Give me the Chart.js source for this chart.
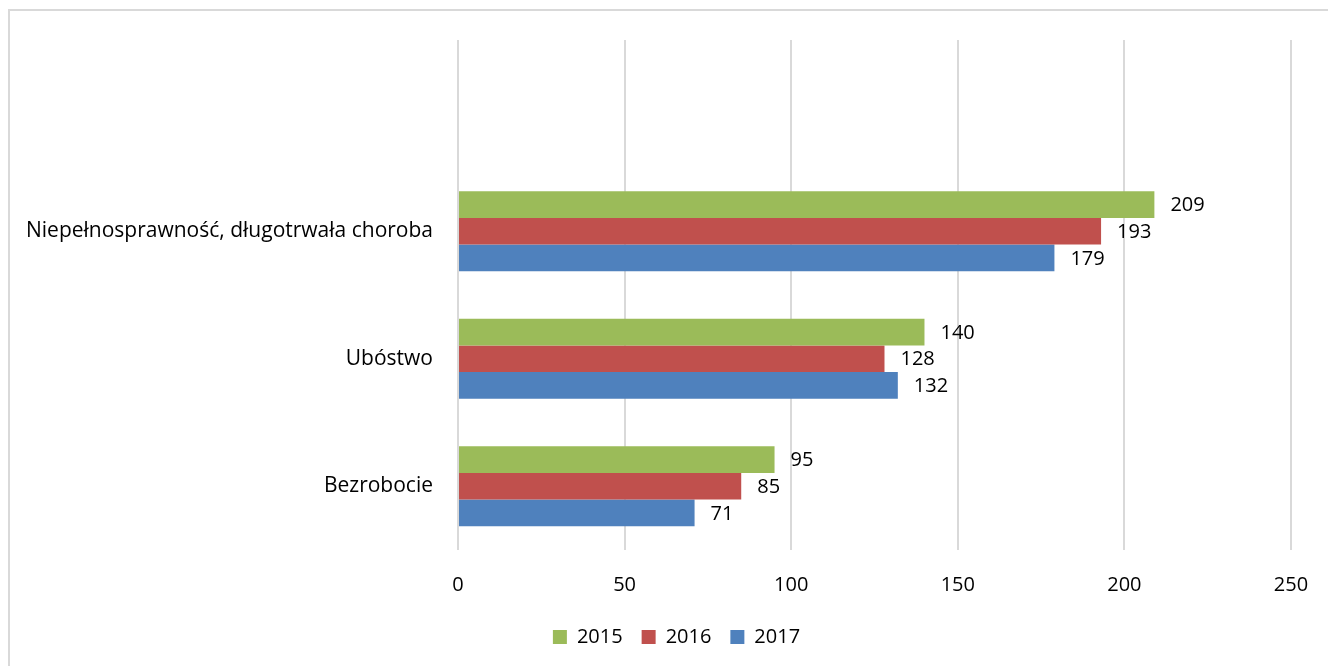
<!DOCTYPE html>
<html>
<head>
<meta charset="utf-8">
<script src="https://cdn.jsdelivr.net/npm/chart.js@4/dist/chart.umd.min.js"></script>
<style>
html, body { margin: 0; padding: 0; background: #fff; overflow: hidden; }
#wrap { position: relative; width: 1328px; height: 666px; }
#frame { position: absolute; left: 8px; top: 9px; width: 1340px; height: 680px;
  border-top: 2px solid #d9d9d9; border-left: 2px solid #d9d9d9; }
canvas { position: absolute; left: 0; top: 0; }
</style>
</head>
<body>
<div id="wrap">
  <div id="frame"></div>
  <canvas id="canvas" width="1328" height="666"></canvas>
</div>
<script>
// first category is empty, as in the original sheet
var categories = ['', 'Niepełnosprawność, długotrwała choroba', 'Ubóstwo', 'Bezrobocie'];
var years = ['2015', '2016', '2017'];
var values2015 = [null, 209, 140, 95];
var values2016 = [null, 193, 128, 85];
var values2017 = [null, 179, 132, 71];
var xTicks = [0, 50, 100, 150, 200, 250];

var FONT = '"Open Sans", sans-serif';

var valueLabels = {
  id: 'valueLabels',
  afterDatasetsDraw: function(chart) {
    var ctx = chart.ctx;
    ctx.save();
    ctx.font = '20px ' + FONT;
    ctx.fillStyle = '#000';
    ctx.textAlign = 'left';
    ctx.textBaseline = 'middle';
    chart.data.datasets.forEach(function(ds, i) {
      var meta = chart.getDatasetMeta(i);
      meta.data.forEach(function(bar, j) {
        var v = ds.data[j];
        if (v === null) return;
        ctx.fillText(String(v), bar.x + 16, bar.y + 1);
      });
    });
    ctx.restore();
  }
};

// legend in the original sits a bit right of the page centre
var legendShift = {
  id: 'legendShift',
  afterLayout: function(chart) {
    if (chart.legend) {
      chart.legend.left += 31;
      chart.legend.right += 31;
    }
  }
};

var ctx = document.getElementById('canvas').getContext('2d');
var chart = new Chart(ctx, {
  type: 'bar',
  data: {
    labels: categories,
    datasets: [
      { label: years[0], data: values2015, backgroundColor: '#9bbb59' },
      { label: years[1], data: values2016, backgroundColor: '#c0504d' },
      { label: years[2], data: values2017, backgroundColor: '#4f81bd' }
    ]
  },
  plugins: [valueLabels, legendShift],
  options: {
    indexAxis: 'y',
    responsive: false,
    animation: false,
    categoryPercentage: 0.627,
    barPercentage: 1,
    layout: { padding: { top: 40, right: 37, bottom: 9, left: 0 } },
    scales: {
      x: {
        min: 0,
        max: 250,
        afterBuildTicks: function(s) { s.ticks = xTicks.map(function(v) { return { value: v }; }); },
        afterFit: function(s) { s.height = 58; s.paddingLeft = 0; s.paddingRight = 0; },
        grid: { color: '#d9d9d9', lineWidth: 2, drawTicks: false },
        border: { display: false },
        ticks: { padding: 23, color: '#000', font: { family: FONT, size: 20 } }
      },
      y: {
        afterFit: function(s) { s.width = 458; },
        grid: { display: false, drawTicks: false },
        border: { display: false },
        ticks: { padding: 25, color: '#000', font: { family: FONT, size: 21 } }
      }
    },
    plugins: {
      legend: {
        position: 'bottom',
        labels: {
          boxWidth: 14,
          boxHeight: 14,
          padding: 19,
          color: '#000',
          font: { family: FONT, size: 20 }
        }
      },
      tooltip: { enabled: false },
      title: { display: false }
    }
  }
});
</script>
</body>
</html>
